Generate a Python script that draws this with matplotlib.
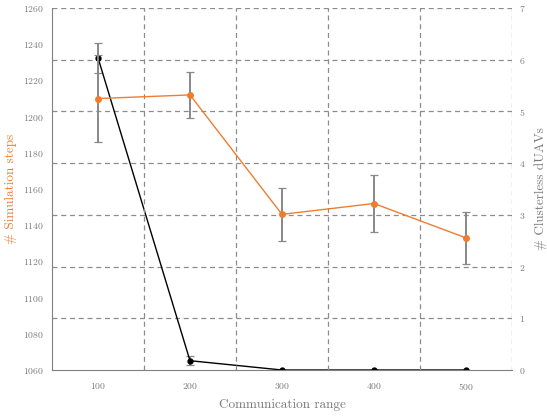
import numpy as np
import matplotlib
matplotlib.use("Agg")
import matplotlib.pyplot as plt

plt.rcParams['font.family'] = ['cmr10', 'DejaVu Serif']
plt.rcParams['axes.formatter.use_mathtext'] = True

comm_range = [100, 200, 300, 400, 500]
sim_steps = [1210, 1212, 1146, 1152, 1133]
sim_steps_err = [24, 12.5, 14.5, 16, 14.5]
clusterless = [6.04, 0.18, 0, 0, 0]
clusterless_err = [0.29, 0.09, 0, 0, 0]

orange = '#ef7d31'
gray = '#808080'
txt = '#7a7a7a'

fig = plt.figure(figsize=(5.47, 4.17), dpi=100)
ax = fig.add_axes([0.095, 0.1127, 0.841, 0.868])
ax2 = ax.twinx()

# grid on the right axis (horizontal) and between categories (vertical)
for v in range(1, 8):
    ax2.axhline(v, color='#8c8c8c', ls=(0, (4, 3)), lw=0.9, zorder=0)
for v in [150, 250, 350, 450, 550]:
    ax.axvline(v, color='#8c8c8c', ls=(0, (4, 3)), lw=0.9, zorder=0)

ax.errorbar(comm_range, sim_steps, yerr=sim_steps_err, color=orange, lw=1,
            marker='o', ms=4, ecolor='#888888', elinewidth=1.4, capsize=3, capthick=0.9, zorder=3)
ax2.errorbar(comm_range, clusterless, yerr=clusterless_err, color='black', lw=1,
             marker='o', ms=3.5, ecolor='#888888', elinewidth=1.4, capsize=3, capthick=0.9, zorder=4)

ax.set_xlim(50, 550)
ax.set_ylim(1060, 1260)
ax.set_yticks(np.arange(1060, 1261, 20))
ax.set_xticks(comm_range)
ax2.set_ylim(0, 7)
ax2.set_yticks(range(0, 8))

for a in (ax, ax2):
    for s in ['top', 'right']:
        a.spines[s].set_visible(False)
    a.tick_params(length=0, labelsize=7, colors=txt)
ax2.spines['left'].set_visible(False)
ax2.spines['bottom'].set_visible(False)
ax.spines['left'].set_color(gray)
ax.spines['bottom'].set_color(gray)
ax.tick_params(axis='x', pad=8)
ax.tick_params(axis='y', pad=6)
ax2.tick_params(axis='y', pad=5)

ax.set_xlabel('Communication range', color=txt, fontsize=9.5, labelpad=5)
ax.set_ylabel('# Simulation steps', color=orange, fontsize=9.5, labelpad=4)
ax2.set_ylabel('# Clusterless dUAVs', color=txt, fontsize=9.5, labelpad=6)

ax.set_zorder(ax2.get_zorder() + 1)
ax.patch.set_visible(False)

fig.savefig('out.png', dpi=100)
